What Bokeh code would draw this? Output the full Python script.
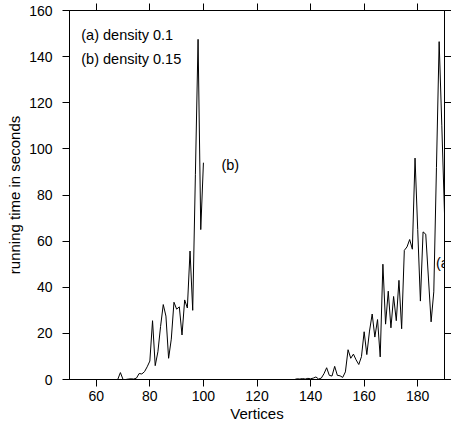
from bokeh.plotting import figure
from bokeh.models import LinearAxis, FixedTicker, Label, Range1d, CustomJSTickFormatter
from bokeh.embed import file_html
from bokeh.resources import INLINE

# ---- data ----
b_vertices = list(range(60, 101))
b_seconds = [0.0, 0.0, 0.0, 0.0, 0.0, 0.0, 0.0, 0.0, 0.0, 3.0,
             0.0, 0.0, 0.2, 0.3, 0.2, 0.6, 2.6, 2.4, 3.4, 5.5,
             8.0, 25.5, 6.0, 12.0, 23.0, 32.5, 27.5, 9.2, 17.5, 33.5,
             30.5, 31.5, 19.3, 34.5, 31.0, 55.7, 30.0, 89.0, 147.5, 65.0,
             94.0]

a_vertices = list(range(120, 191))
a_seconds = [0.0, 0.0, 0.0, 0.0, 0.0, 0.0, 0.0, 0.0, 0.0, 0.0,
             0.0, 0.0, 0.0, 0.0, 0.0, 0.3, 0.2, 0.4, 0.2, 0.5,
             0.3, 0.6, 1.1, 0.2, 0.6, 2.5, 5.1, 1.8, 1.5, 5.7,
             1.8, 1.6, 0.9, 3.3, 12.9, 9.2, 11.0, 8.5, 6.5, 9.9,
             20.7, 10.8, 21.0, 28.4, 18.4, 26.0, 9.8, 50.0, 24.0, 38.3,
             22.4, 36.0, 25.5, 43.0, 22.0, 56.0, 57.5, 60.7, 56.5, 96.0,
             65.0, 34.0, 64.0, 63.0, 44.0, 25.0, 38.0, 92.0, 146.5, 110.0,
             72.0]

x_ticks = [60, 80, 100, 120, 140, 160, 180]
y_ticks = [0, 20, 40, 60, 80, 100, 120, 140, 160]

FONT = "Liberation Sans"

p = figure(width=451, height=424, x_range=Range1d(50, 190), y_range=Range1d(0, 160),
           toolbar_location=None, output_backend="svg",
           min_border_left=69, min_border_right=7, min_border_top=10, min_border_bottom=44)
p.outline_line_color = "black"
p.outline_line_width = 1
p.xgrid.grid_line_color = None
p.ygrid.grid_line_color = None

p.line(b_vertices, b_seconds, line_color="black", line_width=1)
p.line(a_vertices, a_seconds, line_color="black", line_width=1)


def style_axis(ax, ticks):
    ax.ticker = FixedTicker(ticks=ticks)
    ax.minor_tick_line_color = None
    ax.major_tick_out = 7
    ax.major_tick_in = 0
    ax.axis_line_color = "black"
    ax.major_tick_line_color = "black"
    ax.major_tick_line_width = 1
    ax.axis_line_width = 1
    ax.major_label_text_font = FONT
    ax.major_label_text_color = "black"
    ax.major_label_text_font_size = "14px"
    ax.axis_label_text_font = FONT
    ax.axis_label_text_font_style = "normal"
    ax.axis_label_text_color = "black"
    ax.axis_label_text_font_size = "15px"


xa = p.xaxis[0]
style_axis(xa, x_ticks)
xa.axis_label = "Vertices"
xa.major_label_standoff = 4
xa.axis_label_standoff = 1

ya = p.yaxis[0]
style_axis(ya, y_ticks)
ya.axis_label = "running time in seconds"
ya.major_label_standoff = 10
ya.axis_label_standoff = 3

top = LinearAxis()
style_axis(top, x_ticks)
top.formatter = CustomJSTickFormatter(code="return ''")
top.major_label_text_font_size = "1px"
top.major_label_standoff = 0
p.add_layout(top, "above")

right = LinearAxis()
style_axis(right, y_ticks)
right.formatter = CustomJSTickFormatter(code="return ''")
right.major_label_text_font_size = "1px"
right.major_label_standoff = 0
p.add_layout(right, "right")

for txt, yy in [("(a) density 0.1", 149.2), ("(b) density 0.15", 138.8)]:
    p.add_layout(Label(x=54.4, y=yy, text=txt, text_font=FONT, text_font_size="14.5px",
                       text_baseline="middle", text_color="black"))

p.add_layout(Label(x=106.7, y=93, text="(b)", text_font=FONT, text_font_size="14.5px",
                   text_baseline="middle", text_color="black"))
p.add_layout(Label(x=186.8, y=50.6, text="(a)", text_font=FONT, text_font_size="14.5px",
                   text_baseline="middle", text_color="black"))

open("out.html", "w").write(file_html(p, INLINE))
